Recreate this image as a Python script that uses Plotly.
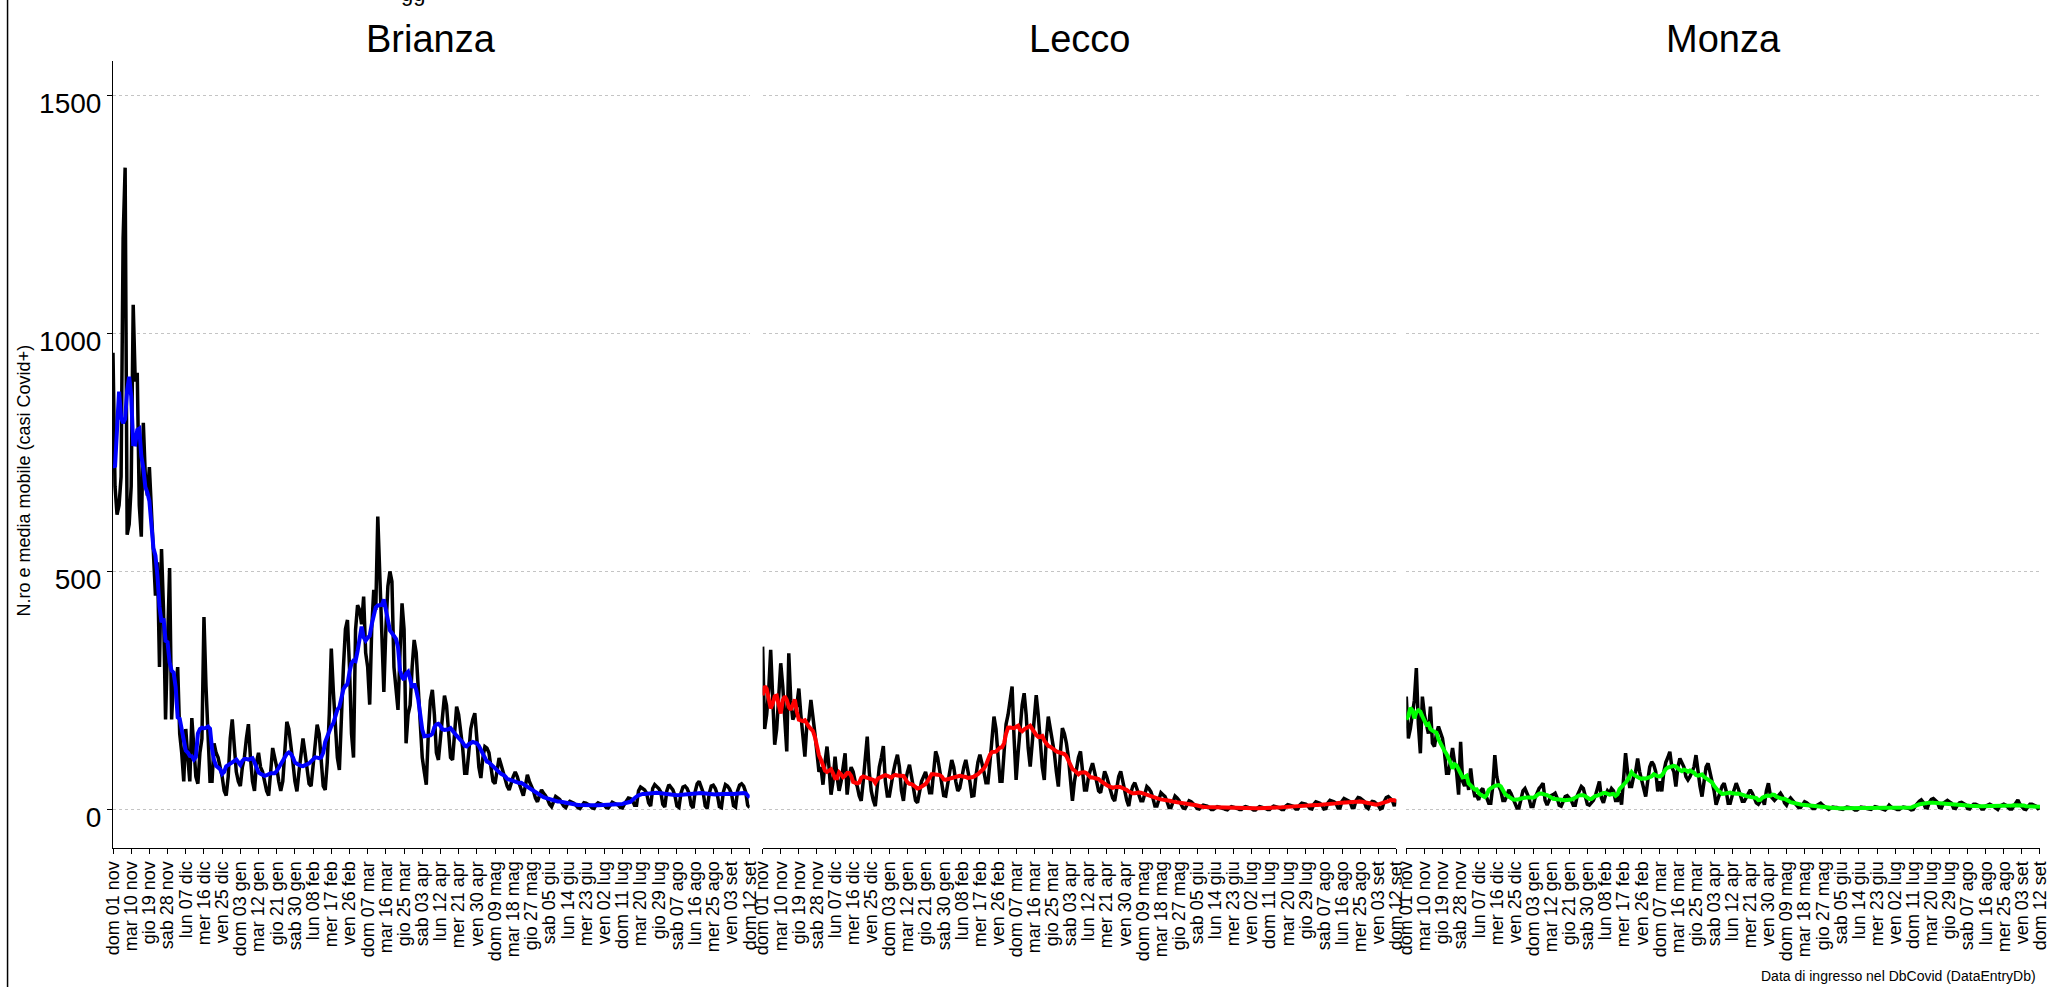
import pandas as pd
import plotly.graph_objects as go

# ---------------- data (daily new cases, from 2020-11-01) ----------------
start_date = "2020-11-01"

brianza_raw = [
    960, 680, 620, 640, 700, 1200, 1349,
    578, 600, 680, 1061, 900, 918, 640,
    574, 813, 700, 660, 720, 640, 560,
    450, 520, 300, 548, 420, 190, 330,
    508, 190, 280, 250, 300, 160, 120,
    60, 170, 110, 60, 193, 130, 70,
    55, 120, 150, 405, 260, 150, 60,
    60, 140, 120, 110, 90, 70, 40,
    30, 70, 150, 190, 120, 80, 60,
    50, 90, 110, 150, 180, 110, 60,
    40, 100, 120, 90, 80, 60, 40,
    30, 80, 130, 110, 90, 60, 40,
    60, 130, 185, 170, 140, 100, 60,
    39, 80, 110, 150, 120, 90, 55,
    50, 90, 130, 179, 160, 110, 50,
    42, 100, 200, 339, 250, 190, 110,
    84, 200, 300, 380, 399, 300, 160,
    110, 378, 430, 420, 390, 448, 330,
    300, 221, 380, 462, 420, 616, 480,
    400, 248, 380, 470, 501, 480, 300,
    260, 210, 330, 434, 380, 140, 200,
    220, 300, 357, 330, 250, 200, 110,
    80, 53, 160, 230, 252, 200, 120,
    105, 150, 200, 240, 220, 150, 110,
    105, 160, 217, 200, 170, 130, 77,
    77, 120, 170, 190, 203, 150, 90,
    67, 110, 133, 130, 120, 90, 60,
    55, 80, 109, 95, 80, 60, 50,
    42, 60, 70, 80, 70, 55, 40,
    30, 50, 74, 60, 50, 40, 25,
    17, 30, 42, 35, 30, 22, 12,
    7, 20, 28, 25, 22, 15, 8,
    5, 14, 18, 16, 14, 10, 5,
    3, 10, 15, 14, 12, 9, 4,
    3, 11, 15, 13, 12, 10, 5,
    4, 10, 16, 14, 12, 10, 5,
    4, 12, 18, 25, 24, 20, 10,
    10, 40, 48, 45, 42, 35, 15,
    8, 45, 53, 50, 45, 38, 12,
    6, 40, 53, 48, 42, 30, 8,
    5, 35, 48, 50, 45, 35, 10,
    4, 38, 55, 60, 48, 36, 8,
    3, 35, 50, 52, 45, 32, 7,
    5, 38, 53, 50, 44, 34, 9,
    6, 40, 52, 55, 50, 38, 10,
    5,
]

lecco_raw = [
    343, 170, 200, 250, 336, 230, 137,
    170, 240, 308, 260, 180, 123, 329,
    230, 190, 200, 220, 255, 200, 150,
    112, 180, 190, 231, 200, 160, 120,
    80, 90, 53, 100, 133, 90, 32,
    60, 112, 70, 40, 60, 90, 119,
    32, 70, 90, 80, 60, 50, 30,
    19, 60, 100, 154, 80, 40, 20,
    8, 50, 90, 110, 134, 60, 29,
    29, 60, 80, 100, 116, 90, 40,
    19, 60, 80, 95, 70, 40, 20,
    15, 40, 60, 70, 80, 60, 36,
    36, 80, 123, 110, 80, 60, 30,
    29, 60, 80, 105, 90, 60, 40,
    46, 70, 90, 105, 85, 60, 29,
    30, 70, 100, 116, 100, 80, 57,
    57, 100, 150, 196, 170, 120, 60,
    60, 130, 180, 200, 230, 259, 150,
    63, 120, 180, 220, 245, 200, 130,
    91, 140, 190, 241, 200, 150, 90,
    63, 150, 196, 170, 150, 120, 80,
    49, 120, 172, 160, 140, 110, 70,
    19, 60, 90, 110, 123, 80, 42,
    42, 70, 85, 98, 80, 60, 40,
    36, 60, 81, 70, 55, 40, 25,
    19, 45, 70, 81, 60, 40, 20,
    8, 35, 50, 57, 45, 30, 19,
    19, 35, 49, 45, 38, 25, 8,
    8, 25, 36, 32, 28, 18, 5,
    5, 20, 29, 25, 20, 12, 4,
    3, 12, 19, 17, 14, 9, 3,
    2, 7, 10, 9, 8, 5, 1,
    1, 5, 7, 6, 5, 3, 1,
    0, 4, 7, 6, 5, 3, 1,
    1, 5, 7, 6, 5, 3, 0,
    0, 4, 7, 6, 5, 3, 1,
    1, 5, 8, 7, 6, 4, 1,
    1, 8, 11, 10, 9, 7, 2,
    2, 10, 14, 13, 12, 9, 3,
    2, 12, 17, 16, 14, 10, 2,
    3, 15, 20, 19, 17, 14, 4,
    4, 18, 24, 22, 21, 17, 5,
    5, 20, 26, 25, 22, 18, 6,
    3, 14, 18, 17, 13, 10, 2,
    4, 18, 26, 28, 24, 20, 8,
    22,
]

monza_raw = [
    238, 150, 170, 200, 230, 298, 180,
    119, 238, 200, 180, 160, 217, 140,
    133, 160, 175, 160, 150, 120, 77,
    77, 110, 130, 100, 80, 32, 143,
    60, 50, 70, 42, 87, 50, 30,
    30, 21, 40, 45, 30, 25, 14,
    14, 50, 115, 70, 50, 40, 20,
    20, 30, 42, 35, 25, 15, 4,
    4, 25, 40, 45, 35, 25, 7,
    7, 25, 35, 45, 50, 56, 20,
    10, 20, 30, 32, 35, 25, 10,
    8, 20, 28, 30, 25, 20, 10,
    10, 30, 40, 49, 45, 30, 12,
    10, 15, 20, 30, 45, 60, 25,
    15, 30, 40, 35, 45, 40, 20,
    20, 35, 11, 60, 119, 80, 49,
    49, 70, 80, 108, 80, 60, 40,
    28, 60, 90, 101, 95, 80, 39,
    60, 39, 80, 100, 110, 122, 90,
    80, 49, 90, 108, 100, 90, 70,
    63, 70, 80, 90, 115, 80, 50,
    28, 60, 90, 98, 80, 60, 40,
    11, 25, 40, 50, 56, 40, 14,
    14, 30, 45, 56, 45, 30, 18,
    18, 25, 35, 42, 35, 25, 15,
    12, 20, 25, 11, 40, 56, 30,
    25, 20, 25, 30, 35, 28, 15,
    10, 20, 25, 20, 15, 10, 5,
    5, 12, 17, 15, 12, 8, 3,
    3, 9, 12, 14, 10, 7, 2,
    1, 4, 6, 5, 5, 3, 1,
    1, 4, 6, 5, 4, 3, 0,
    0, 3, 6, 5, 5, 3, 1,
    1, 4, 7, 6, 4, 2, 0,
    0, 4, 10, 6, 5, 3, 1,
    1, 4, 6, 5, 4, 3, 0,
    1, 8, 14, 18, 21, 16, 5,
    4, 16, 22, 24, 20, 16, 5,
    4, 14, 18, 20, 17, 14, 4,
    3, 10, 15, 16, 14, 11, 3,
    2, 8, 12, 12, 10, 8, 2,
    2, 8, 11, 12, 10, 7, 2,
    1, 8, 11, 12, 10, 7, 2,
    2, 9, 14, 21, 12, 8, 2,
    1, 8, 12, 12, 10, 8, 3,
    5,
]

panel_names = ["Brianza", "Lecco", "Monza"]
ma_colors = ["#0000FF", "#FF0000", "#00FF00"]

tick_labels = [
    "dom 01 nov", "mar 10 nov", "gio 19 nov", "sab 28 nov", "lun 07 dic",
    "mer 16 dic", "ven 25 dic", "dom 03 gen", "mar 12 gen", "gio 21 gen",
    "sab 30 gen", "lun 08 feb", "mer 17 feb", "ven 26 feb", "dom 07 mar",
    "mar 16 mar", "gio 25 mar", "sab 03 apr", "lun 12 apr", "mer 21 apr",
    "ven 30 apr", "dom 09 mag", "mar 18 mag", "gio 27 mag", "sab 05 giu",
    "lun 14 giu", "mer 23 giu", "ven 02 lug", "dom 11 lug", "mar 20 lug",
    "gio 29 lug", "sab 07 ago", "lun 16 ago", "mer 25 ago", "ven 03 set",
    "dom 12 set",
]
y_ticks = [0, 500, 1000, 1500]

# ---------------- figure ----------------
W, H = 2051, 987
ML, MR, MT, MB = 113, 1, 61, 139
PW, PH = W - ML - MR, H - MT - MB


def px_x(p):
    return (p - ML) / PW


def px_y(p):
    return (H - MB - p) / PH


FONT = "Liberation Sans, Arial, sans-serif"
dates = pd.date_range(start_date, periods=len(brianza_raw), freq="D")
tick_vals = list(dates[::9])

domains = [[px_x(113), px_x(753)], [px_x(766), px_x(1403)], [px_x(1413), 1.0]]

fig = go.Figure()
series = [brianza_raw, lecco_raw, monza_raw]
for i, (name, raw, col) in enumerate(zip(panel_names, series, ma_colors)):
    s = pd.Series(raw, index=dates, dtype=float)
    ma = s.rolling(7, center=True, min_periods=1).mean()
    xa = "x" if i == 0 else f"x{i+1}"
    ya = "y" if i == 0 else f"y{i+1}"
    fig.add_trace(go.Scatter(x=dates, y=s.values, mode="lines",
                             line=dict(color="black", width=3.5),
                             xaxis=xa, yaxis=ya, showlegend=False, name=name))
    fig.add_trace(go.Scatter(x=dates, y=ma.values, mode="lines",
                             line=dict(color=col, width=4),
                             xaxis=xa, yaxis=ya, showlegend=False,
                             name=name + " media mobile"))

x_range = [dates[0], dates[-1]]
y_range = [-80, 1573]

layout = dict(
    width=W, height=H,
    margin=dict(l=ML, r=MR, t=MT, b=MB, pad=0),
    paper_bgcolor="white", plot_bgcolor="white",
    font=dict(family=FONT, color="black"),
)
for i in range(3):
    xk = "xaxis" if i == 0 else f"xaxis{i+1}"
    yk = "yaxis" if i == 0 else f"yaxis{i+1}"
    layout[xk] = dict(
        domain=domains[i], range=x_range, type="date",
        anchor="y" if i == 0 else f"y{i+1}",
        tickmode="array", tickvals=tick_vals, ticktext=tick_labels,
        tickangle=-90, tickfont=dict(size=18, family=FONT, color="black"),
        ticks="outside", ticklen=5, tickcolor="black", tickwidth=1,
        showline=True, linecolor="black", linewidth=1,
        showgrid=False, zeroline=False,
    )
    layout[yk] = dict(
        domain=[0, 1], range=y_range,
        anchor="x" if i == 0 else f"x{i+1}",
        tickmode="array", tickvals=y_ticks,
        showgrid=True, gridcolor="#c4c4c4", griddash="dot", gridwidth=1,
        zeroline=False,
    )
    if i == 0:
        layout[yk].update(
            showline=True, linecolor="black", linewidth=1,
            ticks="outside", ticklen=5, tickcolor="black",
            tickfont=dict(size=28, family=FONT, color="black"),
            ticklabelshift=7,
        )
    else:
        layout[yk].update(showline=False, ticks="", showticklabels=False,
                          matches="y")

fig.update_layout(**layout)

annotations = []
for i, name in enumerate(panel_names):
    annotations.append(dict(
        text=name, xref="paper", yref="paper",
        x=(domains[i][0] + domains[i][1]) / 2, y=px_y(39),
        xanchor="center", yanchor="middle", showarrow=False,
        font=dict(size=38, family=FONT, color="black")))
annotations.append(dict(
    text="N.ro e media mobile (casi Covid+)", xref="paper", yref="paper",
    x=px_x(24), y=px_y(480), textangle=-90, xanchor="center", yanchor="middle",
    showarrow=False, font=dict(size=18, family=FONT, color="black")))
annotations.append(dict(
    text="Data di ingresso nel DbCovid (DataEntryDb)", xref="paper", yref="paper",
    x=px_x(2048), y=px_y(976), xanchor="right", yanchor="middle",
    showarrow=False, font=dict(size=14, family=FONT, color="black")))
annotations.append(dict(
    text="gg", xref="paper", yref="paper",
    x=px_x(415), y=px_y(-7), xanchor="center", yanchor="middle",
    showarrow=False, font=dict(size=22, family=FONT, color="black")))
fig.update_layout(annotations=annotations)

fig.add_shape(type="line", xref="paper", yref="paper",
              x0=px_x(7), x1=px_x(7), y0=px_y(H), y1=px_y(0),
              line=dict(color="black", width=1.5))

fig.write_html(
    "out.html",
    config={"displayModeBar": False},
    post_script="document.body.style.margin='0px';"
                "document.body.style.overflow='hidden';",
)
